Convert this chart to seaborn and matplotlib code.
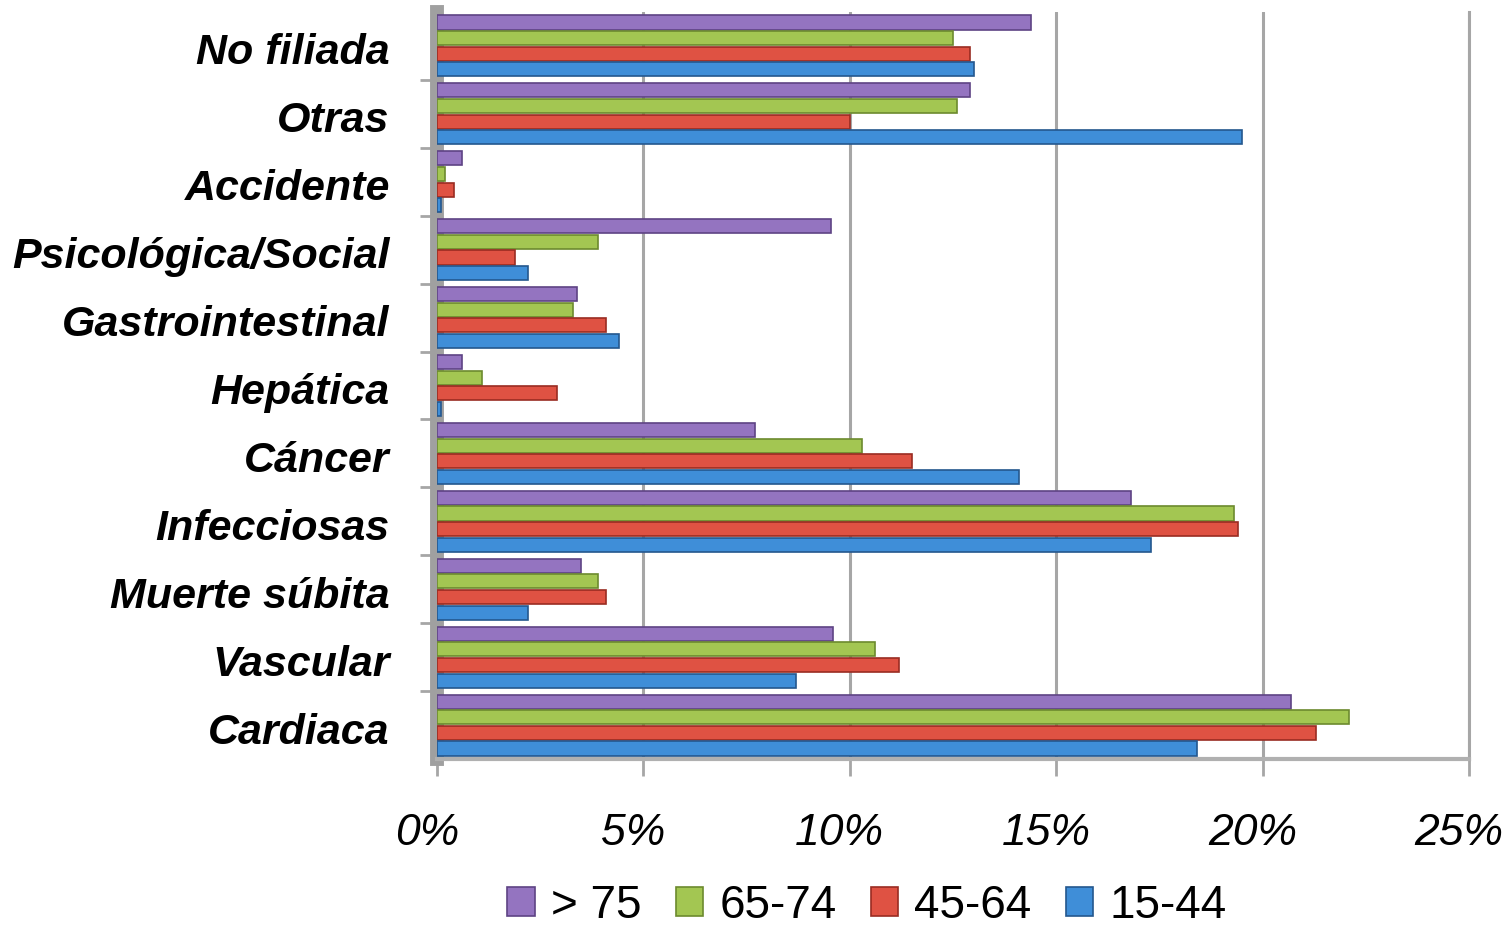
import matplotlib
matplotlib.use("Agg")
import matplotlib.pyplot as plt
import matplotlib.transforms as mtransforms
import seaborn as sns
import pandas as pd
import numpy as np
from matplotlib.patches import Patch

categories = ["No filiada", "Otras", "Accidente", "Psicológica/Social", "Gastrointestinal",
              "Hepática", "Cáncer", "Infecciosas", "Muerte súbita", "Vascular", "Cardiaca"]
groups = ["> 75", "65-74", "45-64", "15-44"]

v_75 = [14.4, 12.9, 0.6, 9.55, 3.4, 0.6, 7.7, 16.8, 3.5, 9.6, 20.7]
v_65_74 = [12.5, 12.6, 0.2, 3.9, 3.3, 1.1, 10.3, 19.3, 3.9, 10.6, 22.1]
v_45_64 = [12.9, 10.0, 0.4, 1.9, 4.1, 2.9, 11.5, 19.4, 4.1, 11.2, 21.3]
v_15_44 = [13.0, 19.5, 0.1, 2.2, 4.4, 0.1, 14.1, 17.3, 2.2, 8.7, 18.4]

colors = ["#9474C0", "#A3C652", "#DF5243", "#3F8ED8"]
edges = ["#5E4384", "#6C8A2E", "#9A2C22", "#24578E"]

rows = []
for g, vals in zip(groups, [v_75, v_65_74, v_45_64, v_15_44]):
    for c, v in zip(categories, vals):
        rows.append({"cat": c, "grp": g, "val": v})
df = pd.DataFrame(rows)

sns.set_theme(style="white")
plt.rcParams["font.family"] = ["Liberation Sans", "DejaVu Sans"]
plt.rcParams["text.color"] = "black"
plt.rcParams["xtick.color"] = "black"
plt.rcParams["ytick.color"] = "black"

fig = plt.figure(figsize=(15.06, 9.27), dpi=100)
ax = fig.add_axes([437/1506, 1-759/927, (1469-437)/1506, (759-12)/927])

sns.barplot(data=df, y="cat", x="val", hue="grp", order=categories, hue_order=groups,
            palette=colors, orient="h", width=0.92, ax=ax, legend=False, saturation=1)

# style bars
for i, cont in enumerate(ax.containers):
    for p in cont.patches:
        h = p.get_height()
        y = p.get_y()
        p.set_y(y + h*0.05)
        p.set_height(h*0.9)
        p.set_edgecolor(edges[i])
        p.set_linewidth(1.2)
        p.set_zorder(3)

ax.set_xlim(0, 25)
ax.set_ylim(len(categories)-0.5, -0.5)
ax.set_xticks([0, 5, 10, 15, 20, 25])
ax.set_xticklabels(["0%", "5%", "10%", "15%", "20%", "25%"], fontsize=32, style="italic")
ax.set_yticks(np.arange(len(categories)-1) + 0.5, minor=True)
ax.set_yticklabels(categories, fontsize=31, fontweight="bold", style="italic")
ax.set_xlabel("")
ax.set_ylabel("")

ax.grid(axis="x", color="#a6a6a6", linewidth=2.2, zorder=0)
ax.set_axisbelow(True)
ax.tick_params(axis="x", which="major", length=12, width=2, color="#a6a6a6", pad=27,
               direction="out", bottom=True, labelcolor="black")
ax.tick_params(axis="y", which="major", length=0, pad=34, labelcolor="black")
ax.tick_params(axis="y", which="minor", length=12, width=2, color="#a6a6a6", direction="out", left=True)

offset = mtransforms.ScaledTranslation(-10/100, 0, fig.dpi_scale_trans)
for lab in ax.get_xticklabels():
    lab.set_transform(lab.get_transform() + offset)
yoff = mtransforms.ScaledTranslation(0, -3/100, fig.dpi_scale_trans)
for lab in ax.get_yticklabels():
    lab.set_transform(lab.get_transform() + yoff)

ax.spines["top"].set_visible(False)
ax.spines["left"].set_color("#a0a0a0")
ax.spines["left"].set_linewidth(10)
ax.spines["left"].set_zorder(2)
ax.spines["bottom"].set_color("#b0b0b0")
ax.spines["bottom"].set_linewidth(3)
ax.spines["right"].set_color("#a6a6a6")
ax.spines["right"].set_linewidth(2.2)

handles = [Patch(facecolor=c, edgecolor=e, linewidth=1.2) for c, e in zip(colors, edges)]
fig.legend(handles, groups, loc="center", bbox_to_anchor=(867/1506, 1-906/927), ncol=4,
           frameon=False, fontsize=33, handlelength=0.6, handleheight=0.6,
           handletextpad=0.35, columnspacing=0.75)

fig.savefig("out.png", dpi=100)
